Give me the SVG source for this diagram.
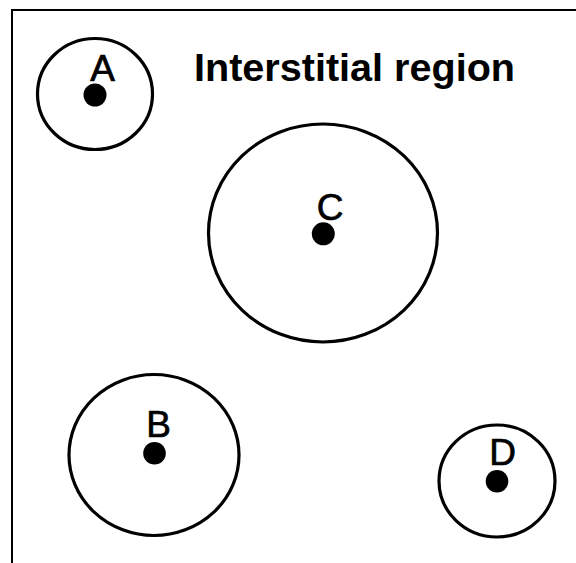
<svg xmlns="http://www.w3.org/2000/svg" width="576" height="563" viewBox="0 0 576 563">
  <style>
    .zone { fill: none; stroke: #000; stroke-width: 3.2; }
    .site { fill: #000; }
    .label { font-family: "Liberation Sans", Arial, sans-serif; font-size: 37px; fill: #000; stroke: #000; stroke-width: 0.7; text-anchor: middle; }
    .title { font-family: "Liberation Sans", Arial, sans-serif; font-size: 39px; font-weight: bold; fill: #000; }
    .frame { stroke: #000; stroke-width: 2; fill: none; }
  </style>
  <rect width="576" height="563" fill="#fff"/>

  <!-- frame: top and left edges only -->
  <g id="frame">
    <line class="frame" x1="11" y1="10" x2="576" y2="10"/>
    <line class="frame" x1="12" y1="9" x2="12" y2="563"/>
  </g>

  <text id="title" class="title" x="194" y="81" textLength="321" lengthAdjust="spacingAndGlyphs">Interstitial region</text>

  <g id="connectors"></g>

  <g id="node-A">
    <ellipse class="zone" cx="95" cy="94" rx="57.5" ry="55.5"/>
    <circle class="site" cx="95" cy="95" r="11.5"/>
    <text class="label" x="102.5" y="81">A</text>
  </g>

  <g id="node-C">
    <ellipse class="zone" cx="323" cy="233" rx="114.5" ry="109"/>
    <circle class="site" cx="323.3" cy="233.8" r="11.5"/>
    <text class="label" x="330" y="220">C</text>
  </g>

  <g id="node-B">
    <ellipse class="zone" cx="154" cy="455" rx="85" ry="80.5"/>
    <circle class="site" cx="154.5" cy="453.3" r="11.3"/>
    <text class="label" x="158.5" y="437">B</text>
  </g>

  <g id="node-D">
    <ellipse class="zone" cx="497" cy="481" rx="58" ry="56"/>
    <circle class="site" cx="497" cy="481.3" r="11.3"/>
    <text class="label" x="502.5" y="465">D</text>
  </g>
</svg>
